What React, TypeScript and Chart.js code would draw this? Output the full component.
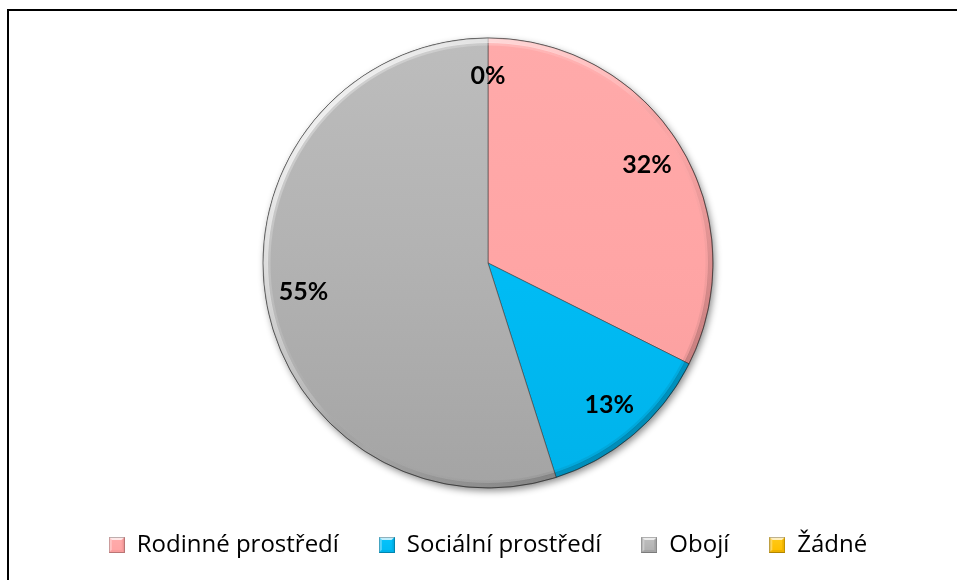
import React, { useEffect, useRef } from "react";
import { Chart, registerables } from "chart.js";

Chart.register(...registerables);

const categories = ["Rodinné prostředí", "Sociální prostředí", "Obojí", "Žádné"];
const shares = [32.4, 12.7, 54.9, 0];
const baseColors = ["#FFA5A5", "#00BCF5", "#B2B2B2", "#FFC000"];
const topColors = ["#FFAAAA", "#05C2FA", "#BDBDBD", "#FFC814"];
const bottomColors = ["#F89D9D", "#00B2EA", "#A4A4A4", "#EDB200"];

const PIE_RADIUS = 225;
const LABEL_FONT = "Lato, 'Open Sans', sans-serif";
const LEGEND_FONT = "'Open Sans', Lato, sans-serif";

function makeMarker(base: string, light: string, dark: string): HTMLCanvasElement {
  const s = 16;
  const b = 3;
  const c = document.createElement("canvas");
  c.width = s;
  c.height = s;
  const g = c.getContext("2d") as CanvasRenderingContext2D;
  g.fillStyle = base;
  g.fillRect(0, 0, s, s);
  const poly = (pts: number[][], col: string) => {
    g.beginPath();
    g.moveTo(pts[0][0], pts[0][1]);
    for (let i = 1; i < pts.length; i++) g.lineTo(pts[i][0], pts[i][1]);
    g.closePath();
    g.fillStyle = col;
    g.fill();
  };
  poly([[0, 0], [s, 0], [s - b, b], [b, b]], "rgba(255,255,255,0.75)");
  poly([[0, 0], [b, b], [b, s - b], [0, s]], "rgba(255,255,255,0.35)");
  poly([[s, 0], [s, s], [s - b, s - b], [s - b, b]], dark);
  poly([[0, s], [b, s - b], [s - b, s - b], [s, s]], dark);
  const grd = g.createLinearGradient(0, b, 0, s - b);
  grd.addColorStop(0, light);
  grd.addColorStop(1, base);
  g.fillStyle = grd;
  g.fillRect(b, b, s - 2 * b, s - 2 * b);
  g.strokeStyle = "rgba(0,0,0,0.25)";
  g.lineWidth = 1;
  g.strokeRect(0.5, 0.5, s - 1, s - 1);
  return c;
}

const shadowPlugin = {
  id: "pieShadow",
  beforeDatasetsDraw(chart: any) {
    const arc = chart.getDatasetMeta(0).data[0];
    if (!arc) return;
    const { x, y, outerRadius } = arc;
    const ctx = chart.ctx;
    ctx.save();
    ctx.shadowColor = "rgba(0,0,0,0.45)";
    ctx.shadowBlur = 7;
    ctx.shadowOffsetX = 2;
    ctx.shadowOffsetY = 3;
    ctx.beginPath();
    ctx.arc(x, y, outerRadius, 0, Math.PI * 2);
    ctx.fillStyle = "#aaaaaa";
    ctx.fill();
    ctx.restore();
  },
  afterDatasetsDraw(chart: any) {
    const meta = chart.getDatasetMeta(0);
    const arc = meta.data[0];
    if (!arc) return;
    const { x, y, outerRadius } = arc;
    const R = outerRadius;
    const ctx = chart.ctx;
    ctx.save();
    ctx.beginPath();
    ctx.arc(x, y, R, 0, Math.PI * 2);
    ctx.clip();
    const g = ctx.createLinearGradient(x - R * 0.7, y - R * 0.7, x + R * 0.7, y + R * 0.7);
    g.addColorStop(0, "rgba(255,255,255,0.75)");
    g.addColorStop(0.45, "rgba(255,255,255,0.15)");
    g.addColorStop(0.6, "rgba(0,0,0,0.0)");
    g.addColorStop(1, "rgba(0,0,0,0.22)");
    ctx.strokeStyle = g;
    ctx.lineWidth = 5;
    ctx.beginPath();
    ctx.arc(x, y, R - 2.5, 0, Math.PI * 2);
    ctx.stroke();
    ctx.lineWidth = 3;
    ctx.beginPath();
    ctx.arc(x, y, R - 6, 0, Math.PI * 2);
    const g2 = ctx.createLinearGradient(x - R * 0.7, y - R * 0.7, x + R * 0.7, y + R * 0.7);
    g2.addColorStop(0, "rgba(255,255,255,0.3)");
    g2.addColorStop(0.45, "rgba(255,255,255,0)");
    g2.addColorStop(1, "rgba(0,0,0,0.08)");
    ctx.strokeStyle = g2;
    ctx.stroke();
    ctx.restore();
    ctx.save();
    ctx.strokeStyle = "rgba(0,0,0,0.35)";
    ctx.lineWidth = 1;
    ctx.beginPath();
    ctx.arc(x, y, R, 0, Math.PI * 2);
    ctx.stroke();
    ctx.restore();

    // percentage labels
    const data = chart.data.datasets[0].data as number[];
    const total = data.reduce((a: number, b: number) => a + b, 0);
    ctx.save();
    ctx.font = `bold 25px ${LABEL_FONT}`;
    ctx.fillStyle = "#000";
    ctx.textAlign = "center";
    ctx.textBaseline = "middle";
    meta.data.forEach((el: any, i: number) => {
      const mid = (el.startAngle + el.endAngle) / 2;
      const r = el.outerRadius * 0.83;
      const pct = Math.round((data[i] / total) * 100);
      ctx.fillText(`${pct}%`, el.x + Math.cos(mid) * r, el.y + Math.sin(mid) * r);
    });
    ctx.restore();
  },
};

export default function App() {
  const ref = useRef<HTMLCanvasElement | null>(null);

  useEffect(() => {
    if (!ref.current) return;
    const markers = baseColors.map((c, i) => makeMarker(c, topColors[i], bottomColors[i]));
    const chart = new Chart(ref.current, {
      type: "pie",
      data: {
        labels: categories,
        datasets: [
          {
            data: shares,
            radius: PIE_RADIUS,
            borderWidth: 1,
            borderColor: "rgba(60,60,60,0.55)",
            backgroundColor: (c: any) => {
              const chartArea = c.chart.chartArea;
              const i = c.dataIndex ?? 0;
              if (!chartArea) return baseColors[i];
              const cy = (chartArea.top + chartArea.bottom) / 2;
              const g = c.chart.ctx.createLinearGradient(0, cy - PIE_RADIUS, 0, cy + PIE_RADIUS);
              g.addColorStop(0, topColors[i]);
              g.addColorStop(0.5, baseColors[i]);
              g.addColorStop(1, bottomColors[i]);
              return g;
            },
          } as any,
        ],
      },
      options: {
        responsive: false,
        animation: false,
        devicePixelRatio: 1,
        layout: { padding: { top: 22, bottom: 13, left: 10, right: 0 } },
        plugins: {
          tooltip: { enabled: false },
          legend: {
            position: "bottom",
            align: "center",
            labels: {
              usePointStyle: true,
              boxWidth: 16,
              boxHeight: 16,
              padding: 40,
              color: "#000",
              font: { family: LEGEND_FONT, size: 24 },
              generateLabels: () =>
                categories.map((text, i) => ({
                  text,
                  fillStyle: baseColors[i],
                  strokeStyle: baseColors[i],
                  lineWidth: 0,
                  pointStyle: markers[i],
                  hidden: false,
                  index: i,
                  fontColor: "#000",
                })),
            },
          },
        },
      },
      plugins: [shadowPlugin],
    } as any);
    return () => chart.destroy();
  }, []);

  return (
    <div
      style={{
        position: "fixed",
        left: 7,
        top: 9,
        width: 957 - 7,
        height: 580 - 9,
        boxSizing: "border-box",
        borderTop: "2px solid #000",
        borderLeft: "2px solid #000",
        background: "#fff",
        overflow: "hidden",
      }}
    >
      <canvas ref={ref} width={948} height={569} style={{ display: "block", width: 948, height: 569 }} />
    </div>
  );
}
